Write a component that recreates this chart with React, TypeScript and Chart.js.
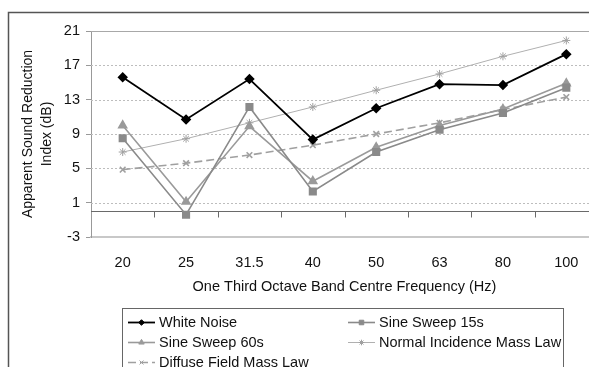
import React, { useEffect, useRef } from "react";
import { Chart, registerables } from "chart.js";
import { drawPoint } from "chart.js/helpers";

Chart.register(...registerables);

const categories = ["20", "25", "31.5", "40", "50", "63", "80", "100"];
const whiteNoise = [15.6, 10.7, 15.4, 8.35, 12.0, 14.8, 14.7, 18.3];
const sineSweep15 = [8.5, -0.4, 12.15, 2.3, 6.9, 9.5, 11.45, 14.4];
const sineSweep60 = [10.0, 1.1, 9.9, 3.5, 7.45, 10.0, 11.9, 14.9];
const normalMassLaw = [6.9, 8.45, 10.3, 12.15, 14.1, 16.0, 18.05, 19.9];
const diffuseMassLaw = [4.85, 5.6, 6.55, 7.7, 9.0, 10.3, 11.85, 13.3];
const yMin = -3;
const yMax = 21;
const yStep = 4;

const FONT = "'Liberation Sans', Arial, sans-serif";
const FS = 14.5;
const CW = 620;
const CH = 380;

const framePlugin = {
  id: "frame",
  beforeDatasetsDraw(chart: any) {
    const { ctx, chartArea } = chart;
    const y = chart.scales.y;
    const x = chart.scales.x;
    ctx.save();
    ctx.strokeStyle = "#bdbdbd";
    ctx.lineWidth = 1;
    ctx.setLineDash([2, 2]);
    for (let v = yMin + yStep; v < yMax; v += yStep) {
      const py = Math.round(y.getPixelForValue(v)) + 0.5;
      ctx.beginPath();
      ctx.moveTo(chartArea.left, py);
      ctx.lineTo(chartArea.right, py);
      ctx.stroke();
    }
    ctx.setLineDash([]);
    ctx.strokeStyle = "#a8a8a8";
    const pt = Math.round(y.getPixelForValue(yMax)) + 0.5;
    ctx.beginPath();
    ctx.moveTo(chartArea.left, pt);
    ctx.lineTo(chartArea.right, pt);
    ctx.stroke();
    ctx.strokeStyle = "#6a6a6a";
    const pz = Math.round(y.getPixelForValue(0)) + 0.5;
    const half = (x.getPixelForValue(1) - x.getPixelForValue(0)) / 2;
    ctx.beginPath();
    ctx.moveTo(chartArea.left, pz);
    ctx.lineTo(chartArea.right, pz);
    for (let i = 0; i < categories.length; i++) {
      const px = Math.round(x.getPixelForValue(i) + half) + 0.5;
      ctx.moveTo(px, pz);
      ctx.lineTo(px, pz + 6);
    }
    ctx.stroke();
    ctx.restore();
  },
  afterDraw(chart: any) {
    const { ctx } = chart;
    ctx.save();
    ctx.strokeStyle = "#555";
    ctx.lineWidth = 1.5;
    ctx.strokeRect(8.5, 12.5, 800, 600);
    ctx.strokeStyle = "#666";
    ctx.lineWidth = 1;
    ctx.strokeRect(122.5, 308.5, 441, 100);
    const items = chart.data.datasets;
    const pos = [
      [128, 322],
      [348, 322],
      [128, 342],
      [348, 342],
      [128, 362],
    ];
    ctx.font = `${FS}px ${FONT}`;
    ctx.textBaseline = "middle";
    ctx.textAlign = "left";
    items.forEach((ds: any, i: number) => {
      const [lx, ly] = pos[i];
      ctx.save();
      ctx.strokeStyle = ds.borderColor;
      ctx.lineWidth = ds.borderWidth;
      ctx.setLineDash(ds.borderDash || []);
      ctx.beginPath();
      ctx.moveTo(lx, ly + 0.5);
      ctx.lineTo(lx + 27, ly + 0.5);
      ctx.stroke();
      ctx.setLineDash([]);
      ctx.fillStyle = ds.pointBackgroundColor;
      ctx.strokeStyle = ds.pointBorderColor;
      ctx.lineWidth = 1;
      drawPoint(ctx, { pointStyle: ds.pointStyle, radius: ds.pointRadius * 0.7, borderWidth: 1, rotation: 0 }, lx + 13.5, ly + 0.5);
      ctx.restore();
      ctx.fillStyle = "#111";
      ctx.fillText(ds.label, lx + 31, ly + 1);
    });
    ctx.restore();
  },
};

export default function App() {
  const ref = useRef<HTMLCanvasElement>(null);
  useEffect(() => {
    if (!ref.current) return;
    const chart = new Chart(ref.current, {
      type: "line",
      data: {
        labels: categories,
        datasets: [
          {
            label: "White Noise",
            data: whiteNoise,
            borderColor: "#000",
            backgroundColor: "#000",
            borderWidth: 1.8,
            pointStyle: "rectRot",
            pointRadius: 4,
            pointBackgroundColor: "#000",
            pointBorderColor: "#000",
          },
          {
            label: "Sine Sweep 15s",
            data: sineSweep15,
            borderColor: "#8a8a8a",
            backgroundColor: "#8a8a8a",
            borderWidth: 1.6,
            pointStyle: "rect",
            pointRadius: 4.6,
            pointBackgroundColor: "#8a8a8a",
            pointBorderColor: "#8a8a8a",
          },
          {
            label: "Sine Sweep 60s",
            data: sineSweep60,
            borderColor: "#9a9a9a",
            backgroundColor: "#9a9a9a",
            borderWidth: 1.6,
            pointStyle: "triangle",
            pointRadius: 4.5,
            pointBackgroundColor: "#9a9a9a",
            pointBorderColor: "#9a9a9a",
          },
          {
            label: "Normal Incidence Mass Law",
            data: normalMassLaw,
            borderColor: "#b0b0b0",
            backgroundColor: "#b0b0b0",
            borderWidth: 1,
            pointStyle: "star",
            pointRadius: 4,
            pointBackgroundColor: "#b0b0b0",
            pointBorderColor: "#a0a0a0",
          },
          {
            label: "Diffuse Field Mass Law",
            data: diffuseMassLaw,
            borderColor: "#a0a0a0",
            backgroundColor: "#a0a0a0",
            borderWidth: 1.6,
            borderDash: [8, 4],
            pointStyle: "crossRot",
            pointRadius: 4,
            pointBackgroundColor: "#a0a0a0",
            pointBorderColor: "#a0a0a0",
          },
        ] as any,
      },
      options: {
        animation: false,
        responsive: false,
        devicePixelRatio: 1,
        layout: { padding: { left: 0, top: 31, right: CW - 598, bottom: CH - 300 } },
        plugins: { legend: { display: false }, tooltip: { enabled: false } },
        elements: { line: { tension: 0 }, point: { borderWidth: 1 } },
        scales: {
          x: {
            type: "category",
            offset: true,
            grid: { display: false, drawTicks: false },
            border: { display: true, color: "#c8c8c8", width: 2 },
            ticks: { color: "#111", font: { family: FONT, size: FS }, padding: 17, maxRotation: 0, autoSkip: false },
            title: {
              display: true,
              text: "One Third Octave Band Centre Frequency (Hz)",
              color: "#111",
              font: { family: FONT, size: FS },
              padding: { top: 0, bottom: 4 },
            },
            afterFit: (s: any) => {
              s.height = 63;
            },
          },
          y: {
            min: yMin,
            max: yMax,
            ticks: { stepSize: yStep, color: "#111", font: { family: FONT, size: FS }, padding: 6 },
            grid: { display: true, drawOnChartArea: false, drawTicks: true, tickLength: 5, tickColor: "#999", color: "#999" },
            border: { display: true, color: "#999", width: 1 },
            title: {
              display: true,
              text: ["Apparent Sound Reduction", "Index (dB)"],
              color: "#111",
              font: { family: FONT, size: 14, lineHeight: 1.35 },
              padding: { top: 19, bottom: 0 },
            },
            afterFit: (s: any) => {
              s.width = 91;
            },
          },
        },
      },
      plugins: [framePlugin],
    });
    return () => chart.destroy();
  }, []);
  return (
    <div style={{ position: "fixed", left: 0, top: 0, width: 589, height: 367, overflow: "hidden", background: "#fff" }}>
      <canvas ref={ref} width={CW} height={CH} style={{ display: "block", width: CW, height: CH }} />
    </div>
  );
}
